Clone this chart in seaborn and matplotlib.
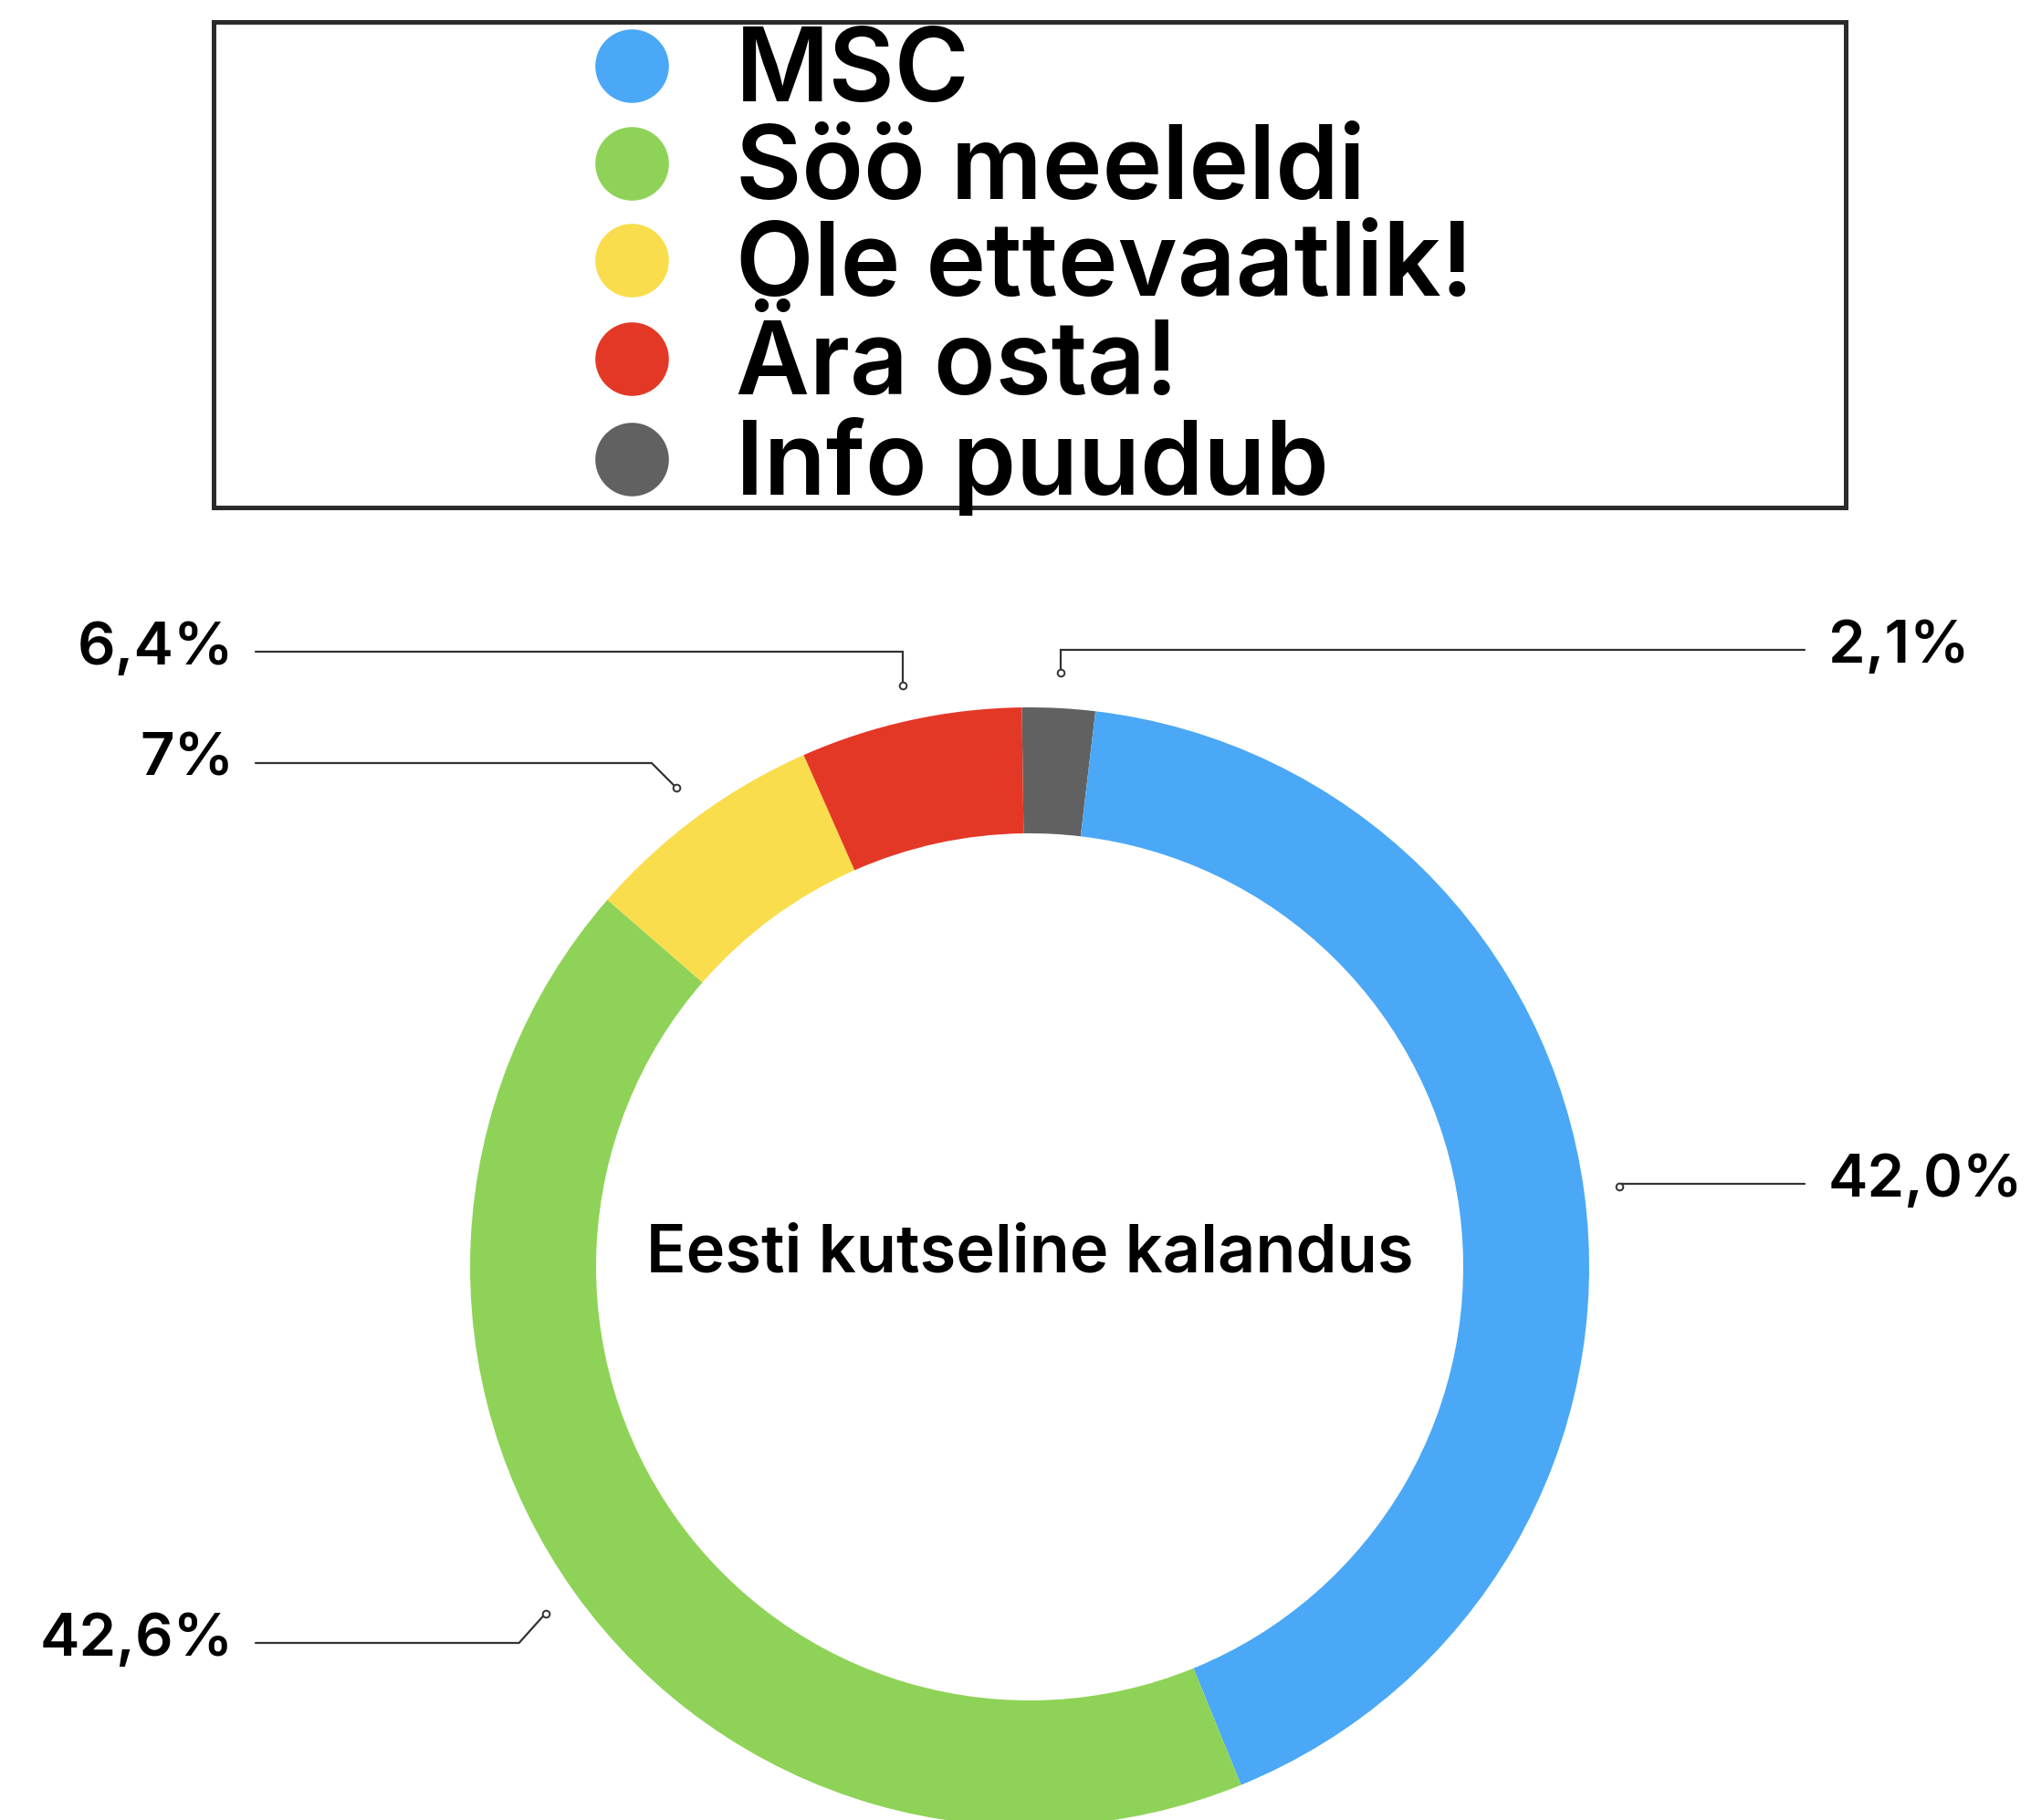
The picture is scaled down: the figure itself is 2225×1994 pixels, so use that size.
import numpy as np
import seaborn as sns
import matplotlib.pyplot as plt
from matplotlib.lines import Line2D
from matplotlib.patches import Rectangle

# data (clockwise from 12 o'clock)
categories = ["Info puudub", "MSC", "Söö meeleldi", "Ole ettevaatlik!", "Ära osta!"]
shares = [2.1, 42.0, 42.6, 7.0, 6.4]
share_labels = ["2,1%", "42,0%", "42,6%", "7%", "6,4%"]
legend_order = ["MSC", "Söö meeleldi", "Ole ettevaatlik!", "Ära osta!", "Info puudub"]
center_title = "Eesti kutseline kalandus"

colors = {
    "MSC": "#4aa8f6",
    "Söö meeleldi": "#8ed357",
    "Ole ettevaatlik!": "#f9dd4c",
    "Ära osta!": "#e43827",
    "Info puudub": "#616161",
}

sns.set_theme(style="white")
plt.rcParams['font.family'] = ['Inter', 'DejaVu Sans']

W, H = 2225, 1994
fig = plt.figure(figsize=(W / 100, H / 100), dpi=100)
ax = fig.add_axes([0, 0, 1, 1])

cx, cy = 1128, H - 1388
R = 613
pal = sns.color_palette([colors[c] for c in categories])

wedges, _ = ax.pie(shares, colors=pal, startangle=90.8, counterclock=False,
                   radius=R, center=(cx, cy),
                   wedgeprops=dict(width=138, linewidth=0))

ax.set_xlim(0, W)
ax.set_ylim(0, H)
ax.set_aspect('equal')
ax.axis('off')

# leader lines: y level of the horizontal part, elbow offset, side
line_y = [712, 1297, 1800, 836, 714]
elbow_dx = [0, 0, -29, -27, 0]
side = ["right", "right", "left", "left", "left"]
line_col = "#333333"

for w, lab, ly, edx, sd in zip(wedges, share_labels, line_y, elbow_dx, side):
    mid = np.deg2rad((w.theta1 + w.theta2) / 2)
    ax_x = cx + 1.064 * R * np.cos(mid)
    ax_y = cy + 1.064 * R * np.sin(mid)
    ly = H - ly
    end_x = 1977 if sd == "right" else 280
    ax.plot([ax_x, ax_x + edx, end_x], [ax_y, ly, ly], color=line_col, lw=1.6,
            solid_joinstyle='miter')
    ax.plot(ax_x, ax_y, 'o', ms=5.5, mfc='white', mec=line_col, mew=1.4)
    if sd == "right":
        ax.text(2003, ly + 3, lab, ha='left', va='center', fontsize=47,
                fontweight='semibold', color='black')
    else:
        ax.text(256, ly + 3, lab, ha='right', va='center', fontsize=47,
                fontweight='semibold', color='black')

ax.text(cx, H - 1374, center_title, ha='center', va='center', fontsize=52,
        fontweight='semibold', color='black')

# legend
handles = [Line2D([0], [0], marker='o', linestyle='', markersize=58,
                  markerfacecolor=colors[c], markeredgewidth=0) for c in legend_order]
leg = ax.legend(handles, legend_order, loc='upper center',
                bbox_to_anchor=(1131 / W, 1 - 29 / H), frameon=False,
                prop=dict(size=80, weight='semibold'), labelcolor='black',
                labelspacing=0.015, handlelength=0.8, handletextpad=0.62,
                borderpad=0, borderaxespad=0)
ax.add_patch(Rectangle((234, H - 556), 1788, 532, fill=False,
                       edgecolor='#2b2b2b', linewidth=3.6))

fig.savefig("out.png", dpi=100)
